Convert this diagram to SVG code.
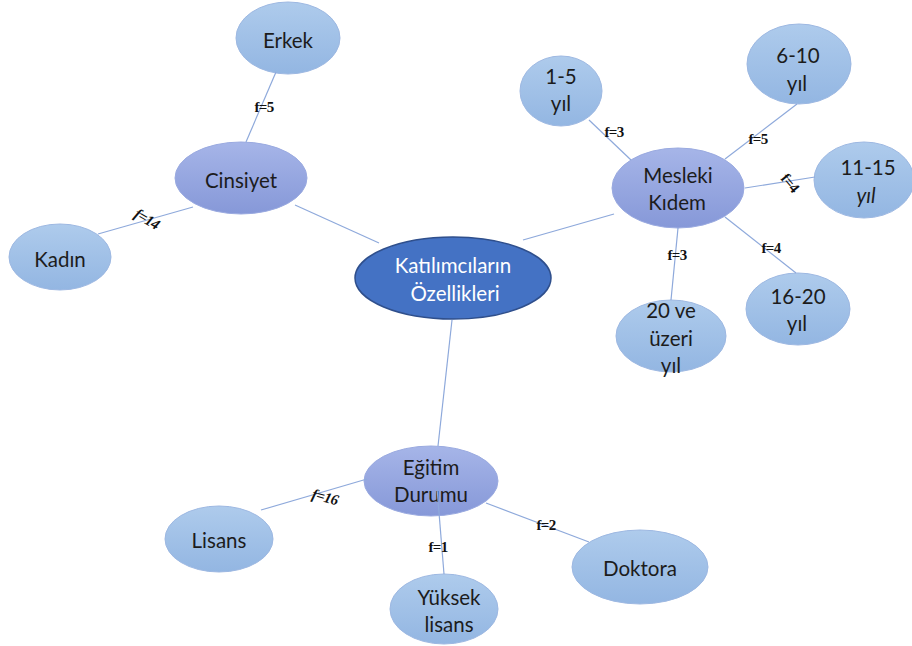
<svg xmlns="http://www.w3.org/2000/svg" width="912" height="646" viewBox="0 0 912 646">
<defs>
<linearGradient id="gLeaf" x1="0" y1="0" x2="0" y2="1"><stop offset="0" stop-color="#AECBEC"/><stop offset="1" stop-color="#93B6E2"/></linearGradient>
<linearGradient id="gMid" x1="0" y1="0" x2="0" y2="1"><stop offset="0" stop-color="#A6B5E8"/><stop offset="1" stop-color="#8698D8"/></linearGradient>
<style>
.leaf{fill:url(#gLeaf);stroke:#9DB8E2;stroke-width:1}
.mid{fill:url(#gMid);stroke:#9AAAE0;stroke-width:1}
.main{fill:#4472C4;stroke:#2F4F8C;stroke-width:1.5}
.t{font-family:Lato,"Open Sans","Liberation Sans",sans-serif;font-size:20.5px;fill:#1c1c1c;text-anchor:middle;dominant-baseline:central}
.tw{fill:#ffffff}
.c{stroke:#8EA9DB;stroke-width:1.2;fill:none}
.f{font-family:"Liberation Serif","Times New Roman",serif;font-size:15px;font-weight:bold;fill:#111;text-anchor:middle;dominant-baseline:central;letter-spacing:-0.6px}
</style>
</defs>
<g id="n-center"><ellipse class="main" cx="453" cy="278" rx="98" ry="41"/><text class="t tw" x="453" y="265">Katılımcıların</text><text class="t tw" x="455" y="293">Özellikleri</text></g>
<g id="n-cinsiyet"><ellipse class="mid" cx="241" cy="178" rx="66" ry="36"/><text class="t" x="241" y="180">Cinsiyet</text></g>
<g id="n-erkek"><ellipse class="leaf" cx="288" cy="38" rx="52" ry="36"/><text class="t" x="288" y="40">Erkek</text></g>
<g id="n-kadin"><ellipse class="leaf" cx="60" cy="257" rx="51" ry="33"/><text class="t" x="60" y="259">Kadın</text></g>
<g id="n-mesleki"><ellipse class="mid" cx="678" cy="188" rx="66" ry="40"/><text class="t" x="678" y="175">Mesleki</text><text class="t" x="677" y="202">Kıdem</text></g>
<g id="n-15"><ellipse class="leaf" cx="561" cy="91" rx="41" ry="35"/><text class="t" x="561" y="76">1-5</text><text class="t" x="561" y="103">yıl</text></g>
<g id="n-610"><ellipse class="leaf" cx="799" cy="64" rx="52" ry="40"/><text class="t" x="798" y="55">6-10</text><text class="t" x="797" y="83">yıl</text></g>
<g id="n-1115"><ellipse class="leaf" cx="864" cy="180" rx="50" ry="38"/><text class="t" x="868" y="167">11-15</text><text class="t" x="866" y="195" font-style="italic">yıl</text></g>
<g id="n-1620"><ellipse class="leaf" cx="798" cy="309" rx="52" ry="36"/><text class="t" x="798" y="296">16-20</text><text class="t" x="797" y="323">yıl</text></g>
<g id="n-20"><ellipse class="leaf" cx="671" cy="336" rx="55" ry="36"/><text class="t" x="671" y="310">20 ve</text><text class="t" x="671" y="338">üzeri</text><text class="t" x="671" y="365">yıl</text></g>
<g id="n-egitim"><ellipse class="mid" cx="431" cy="481" rx="67" ry="35"/><text class="t" x="431" y="467">Eğitim</text><text class="t" x="431" y="494">Durumu</text></g>
<g id="n-lisans"><ellipse class="leaf" cx="219" cy="539" rx="54" ry="33"/><text class="t" x="219" y="540">Lisans</text></g>
<g id="n-yuksek"><ellipse class="leaf" cx="444" cy="609" rx="54" ry="35"/><text class="t" x="449" y="597">Yüksek</text><text class="t" x="449" y="624">lisans</text></g>
<g id="n-doktora"><ellipse class="leaf" cx="640" cy="567" rx="68" ry="37"/><text class="t" x="640" y="568">Doktora</text></g>
<g id="connectors">
<line class="c" x1="295" y1="205" x2="379" y2="243"/>
<line class="c" x1="523" y1="240" x2="614" y2="214"/>
<line class="c" x1="452" y1="320" x2="438" y2="446"/>
<line class="c" x1="246" y1="142" x2="276" y2="72"/>
<line class="c" x1="193" y1="207" x2="98" y2="234"/>
<line class="c" x1="631" y1="160" x2="589" y2="120"/>
<line class="c" x1="725" y1="159" x2="797" y2="104"/>
<line class="c" x1="745" y1="188" x2="815" y2="177"/>
<line class="c" x1="725" y1="217" x2="796" y2="273"/>
<line class="c" x1="678" y1="228" x2="671" y2="300"/>
<line class="c" x1="367" y1="479" x2="261" y2="510"/>
<line class="c" x1="486" y1="503" x2="589" y2="542"/>
<line class="c" x1="437" y1="488" x2="444" y2="574"/>
</g>
<g id="labels">
<text class="f" x="264" y="107">f=5</text>
<text class="f" x="147" y="219" font-style="italic" transform="rotate(30 147 219)">f=14</text>
<text class="f" x="614" y="132">f=3</text>
<text class="f" x="758" y="139">f=5</text>
<text class="f" x="790" y="183" transform="rotate(50 790 183)">f=4</text>
<text class="f" x="677" y="255">f=3</text>
<text class="f" x="771" y="248">f=4</text>
<text class="f" x="325" y="497" font-style="italic" transform="rotate(15 325 497)">f=16</text>
<text class="f" x="438" y="547">f=1</text>
<text class="f" x="546" y="525">f=2</text>
</g>
</svg>
